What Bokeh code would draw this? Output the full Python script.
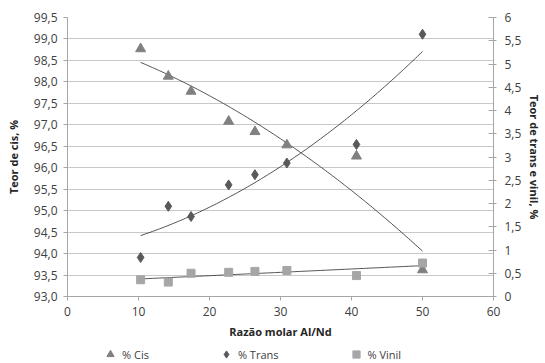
import numpy as np
from bokeh.plotting import figure
from bokeh.layouts import column
from bokeh.models import (Range1d, LinearAxis, FixedTicker, CustomJSTickFormatter,
                          Legend, LegendItem)
from bokeh.embed import file_html
from bokeh.resources import INLINE

# Razão molar Al/Nd
razao = [10.3, 14.2, 17.4, 22.7, 26.4, 30.9, 40.7, 50.0]
# Teor de cis (%), eixo esquerdo
cis = [98.77, 98.13, 97.78, 97.08, 96.84, 96.53, 96.27, 93.62]
# Teor de trans e vinil (%), eixo direito
trans = [0.84, 1.94, 1.72, 2.40, 2.62, 2.87, 3.27, 5.64]
vinil = [0.36, 0.31, 0.50, 0.52, 0.54, 0.56, 0.45, 0.72]

x_ticks = [0, 10, 20, 30, 40, 50, 60]
left_ticks = [93.0, 93.5, 94.0, 94.5, 95.0, 95.5, 96.0, 96.5, 97.0, 97.5, 98.0, 98.5, 99.0, 99.5]
right_ticks = [0, 0.5, 1, 1.5, 2, 2.5, 3, 3.5, 4, 4.5, 5, 5.5, 6]

FONT = "Open Sans"
TXT = "#404040"
AXC = "#a6a6a6"
MARKERS = [("% Cis", "triangle", "#808080"),
           ("% Trans", "diamond", "#595959"),
           ("% Vinil", "square", "#a6a6a6")]

p = figure(width=545, height=345, output_backend="svg", toolbar_location=None,
           x_range=Range1d(0, 60), y_range=Range1d(93, 99.5),
           min_border_left=67, min_border_right=46, min_border_top=17, min_border_bottom=49)
p.extra_y_ranges = {"right": Range1d(0, 6)}
p.outline_line_color = None
p.background_fill_color = "white"

# trend lines fitted to each series
xs = np.linspace(min(razao), max(razao), 120)
cis_fit = np.polyval(np.polyfit(razao, cis, 2), xs)
trans_fit = np.polyval(np.polyfit(razao, trans, 2), xs)
vinil_fit = np.polyval(np.polyfit(razao, vinil, 1), xs)
p.line(xs, cis_fit, line_color="#404040", line_width=0.9)
p.line(xs, trans_fit, line_color="#404040", line_width=0.9, y_range_name="right")
p.line(xs, vinil_fit, line_color="#404040", line_width=0.9, y_range_name="right")

p.scatter(razao, cis, marker="triangle", size=10, fill_color="#808080", line_color="#808080")
p.scatter(razao, trans, marker="diamond", size=10, fill_color="#595959", line_color="#595959",
          y_range_name="right")
p.scatter(razao, vinil, marker="square", size=8, fill_color="#a6a6a6", line_color="#a6a6a6",
          y_range_name="right")

title_kw = dict(axis_label_text_font=FONT, axis_label_text_font_size="11px",
                axis_label_text_font_style="bold", axis_label_text_color="#262626")


def style_axis(ax, tick_in, tick_out, standoff):
    ax.axis_line_color = AXC
    ax.major_tick_line_color = AXC
    ax.major_tick_in = tick_in
    ax.major_tick_out = tick_out
    ax.minor_tick_line_color = None
    ax.major_label_text_font = FONT
    ax.major_label_text_font_size = "12px"
    ax.major_label_text_color = TXT
    ax.major_label_standoff = standoff
    for k, v in title_kw.items():
        setattr(ax, k, v)


# bottom axis
p.xaxis.ticker = FixedTicker(ticks=x_ticks)
p.xaxis.axis_label = "Razão molar Al/Nd"
style_axis(p.xaxis[0], 0, 4, 6)
p.xaxis.axis_label_standoff = 5

# left axis (cis)
p.yaxis.ticker = FixedTicker(ticks=left_ticks)
p.yaxis.formatter = CustomJSTickFormatter(code="return tick.toFixed(1).replace('.', ',');")
p.yaxis.axis_label = "Teor de cis, %"
style_axis(p.yaxis[0], 0, 4, 6)
p.yaxis.axis_label_standoff = 10

# right axis (trans e vinil)
right = LinearAxis(y_range_name="right", ticker=FixedTicker(ticks=right_ticks),
                   formatter=CustomJSTickFormatter(
                       code="var s = Number.isInteger(tick) ? tick.toString() : tick.toFixed(1); return s.replace('.', ',');"),
                   axis_label="Teor de trans e vinil, %")
style_axis(right, 5, 3, 8)
right.axis_label_standoff = 3
right.axis_label_orientation = "vertical"
p.add_layout(right, "right")

p.xgrid.grid_line_color = None
p.ygrid.grid_line_color = "#c8c8c8"
p.ygrid.grid_line_width = 1

# legend strip under the chart (its frame lines up with the chart frame)
lf = figure(width=545, height=18, output_backend="svg", toolbar_location=None,
            x_range=Range1d(0, 1), y_range=Range1d(0, 1),
            min_border=0, x_axis_type=None, y_axis_type=None)
lf.outline_line_color = None
lf.xgrid.grid_line_color = None
lf.ygrid.grid_line_color = None
items = []
for lab, mk, col in MARKERS:
    # a single NaN point: nothing is plotted, only the legend swatch
    r = lf.scatter([np.nan], [np.nan], marker=mk, size=8, fill_color=col, line_color=col)
    items.append(LegendItem(label=lab, renderers=[r]))
legend = Legend(items=items, location=(33, 0), orientation="horizontal", spacing=67,
                glyph_width=20, glyph_height=18, label_standoff=2,
                padding=0, margin=0, border_line_color=None, background_fill_alpha=0,
                label_text_font=FONT, label_text_font_size="11px", label_text_color=TXT)
lf.add_layout(legend)

open("out.html", "w").write(file_html(column(p, lf, spacing=0), INLINE))
